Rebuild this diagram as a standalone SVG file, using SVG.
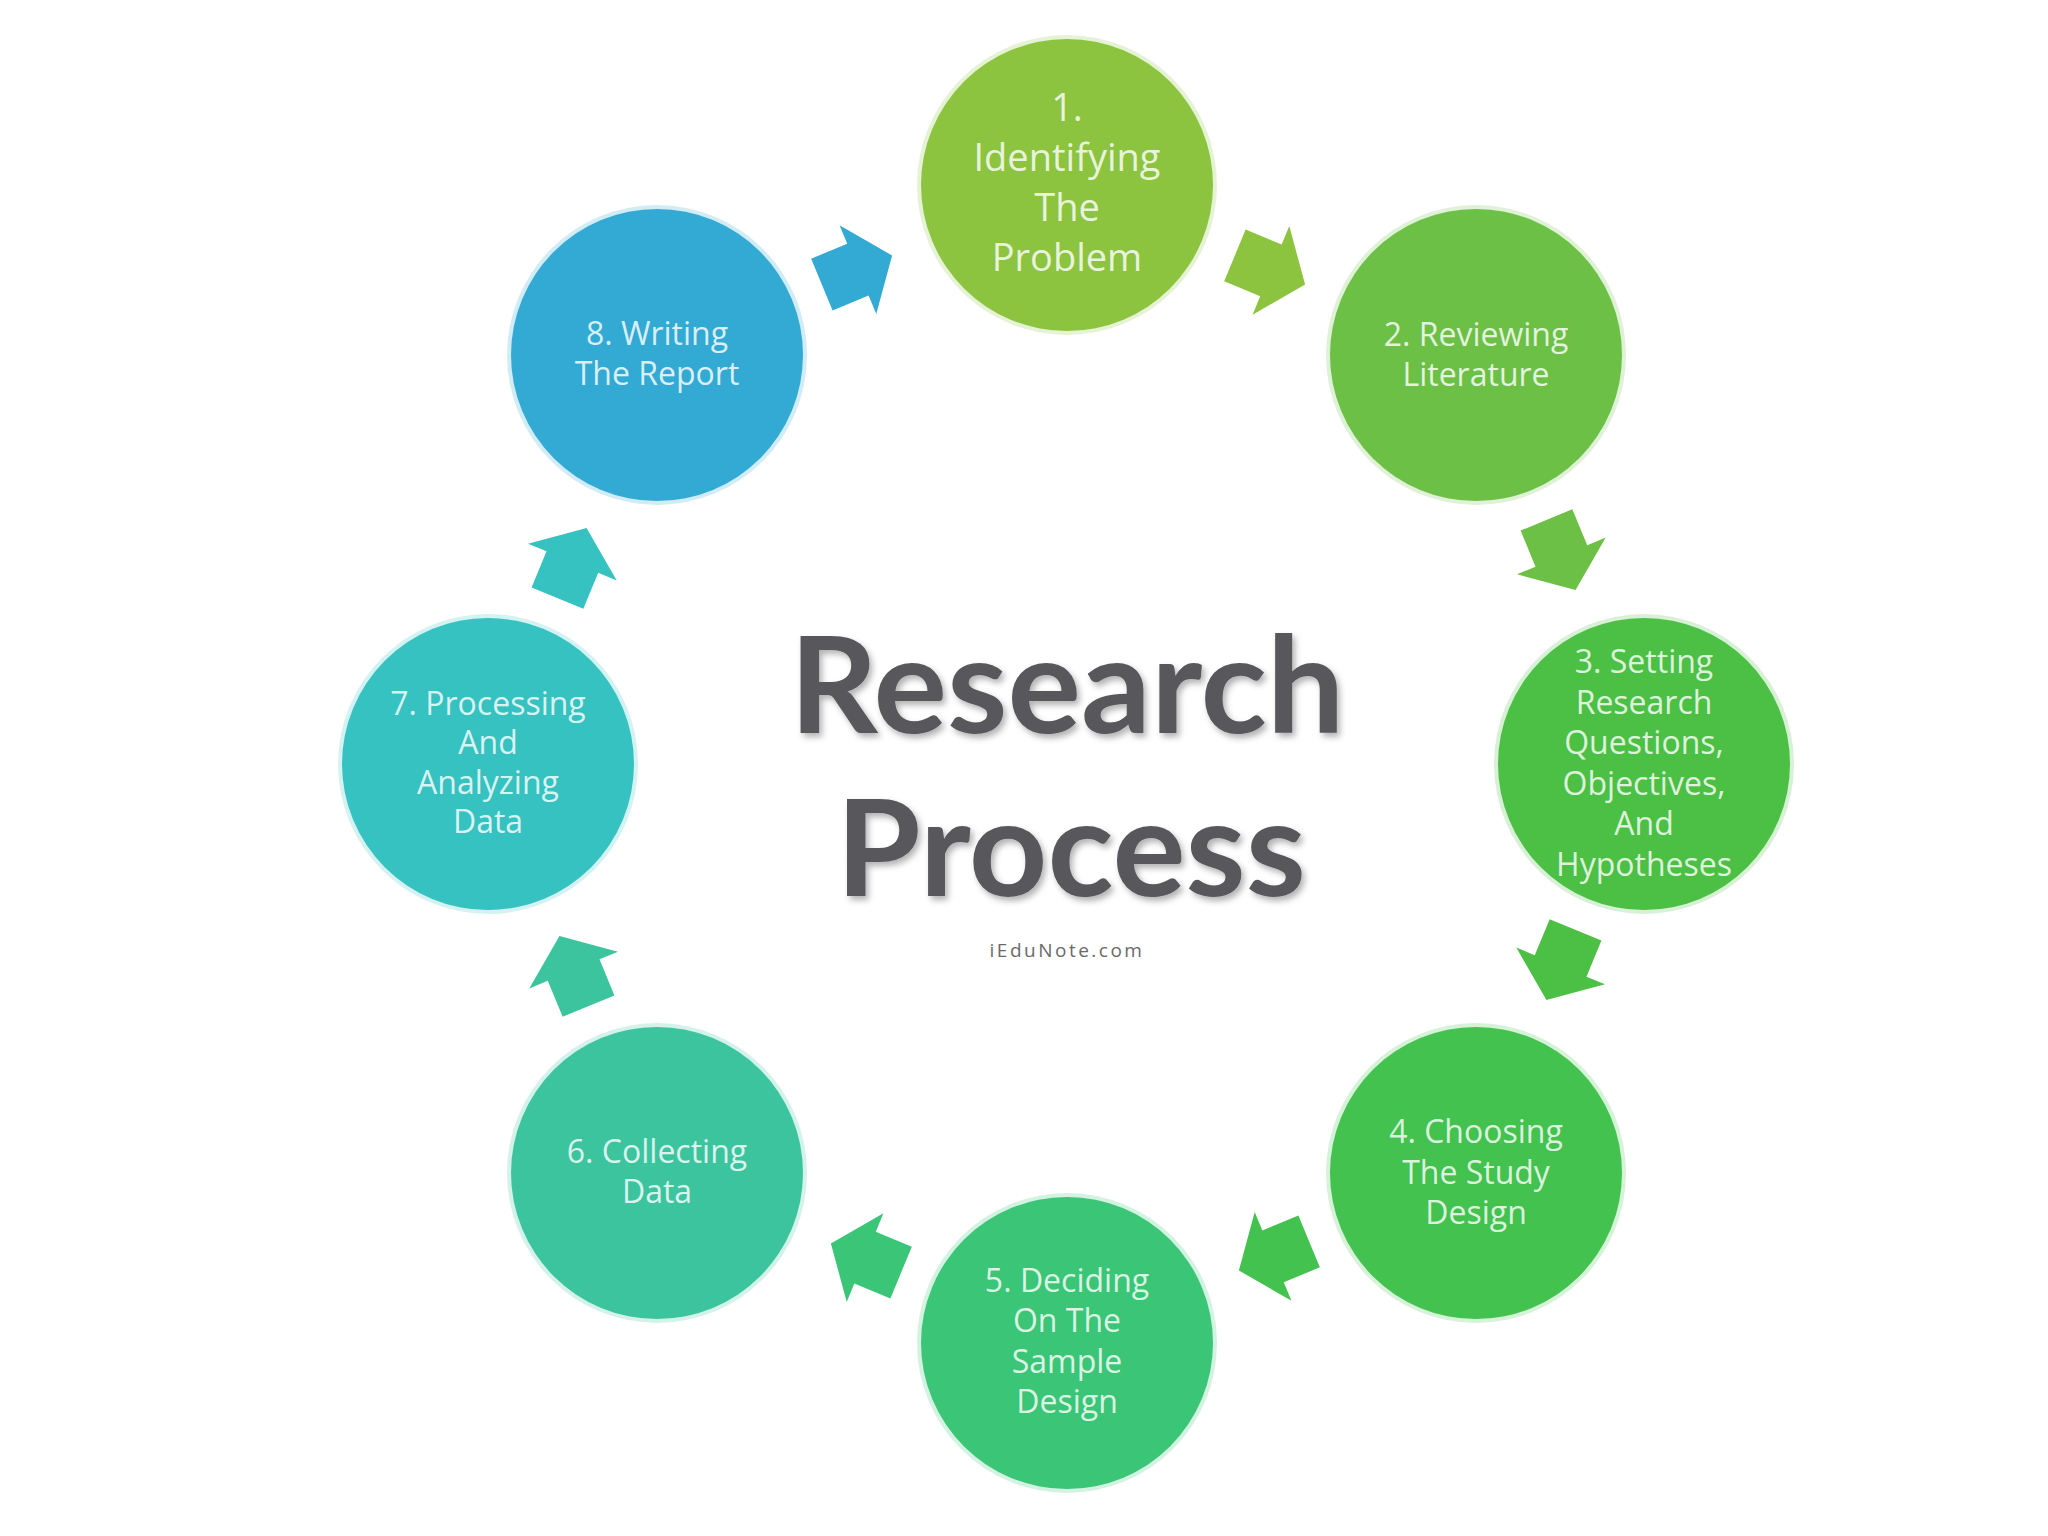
<svg xmlns="http://www.w3.org/2000/svg" xmlns:xlink="http://www.w3.org/1999/xlink" width="2048" height="1536" viewBox="0 0 2048 1536">
<style>
.lbl{font-family:"Open Sans","Noto Sans","Liberation Sans",sans-serif;font-size:32px;fill:#ffffff;fill-opacity:0.82;text-anchor:middle}
.big{font-size:38px}
.title{font-family:Lato,"Open Sans","Liberation Sans",sans-serif;font-weight:bold;font-size:134px;fill:#58585b;text-anchor:middle}
.site{font-family:"Open Sans","Liberation Sans",sans-serif;font-size:19px;letter-spacing:2.5px;fill:#6a6a6a;text-anchor:middle}
.halo{opacity:0.22}
</style>
<defs>
<path id="arr" d="M-38,-28 H1 V-48 L38,0 L1,48 V28 H-38 Z"/>
<filter id="shadow" x="-10%" y="-20%" width="120%" height="140%">
<feDropShadow dx="3" dy="4" stdDeviation="3" flood-color="#000" flood-opacity="0.3"/>
</filter>
</defs>
<rect width="2048" height="1536" fill="#ffffff"/>

<g id="connectors">
<use xlink:href="#arr" href="#arr" transform="translate(1270,270) rotate(22.5)" fill="#8cc43f"/>
<use xlink:href="#arr" href="#arr" transform="translate(1561,555) rotate(67.5)" fill="#6cc046"/>
<use xlink:href="#arr" href="#arr" transform="translate(1561,965) rotate(112.5)" fill="#4cbf45"/>
<use xlink:href="#arr" href="#arr" transform="translate(1274,1256) rotate(157.5)" fill="#43c24f"/>
<use xlink:href="#arr" href="#arr" transform="translate(866,1258) rotate(202.5)" fill="#3bc576"/>
<use xlink:href="#arr" href="#arr" transform="translate(574,971) rotate(247.5)" fill="#3cc49f"/>
<use xlink:href="#arr" href="#arr" transform="translate(572,563) rotate(292.5)" fill="#35c2c0"/>
<use xlink:href="#arr" href="#arr" transform="translate(857,270) rotate(337.5)" fill="#33aad3"/>
</g>

<g id="node1">
<circle class="halo" cx="1067" cy="185" r="150" fill="#8cc43f"/>
<circle cx="1067" cy="185" r="146" fill="#8cc43f"/>
<text class="lbl big" x="1067" y="121">1.</text>
<text class="lbl big" x="1067" y="171">Identifying</text>
<text class="lbl big" x="1067" y="221">The</text>
<text class="lbl big" x="1067" y="271">Problem</text>
</g>

<g id="node2">
<circle class="halo" cx="1476" cy="355" r="150" fill="#6cc046"/>
<circle cx="1476" cy="355" r="146" fill="#6cc046"/>
<text class="lbl" x="1476" y="346">2. Reviewing</text>
<text class="lbl" x="1476" y="386">Literature</text>
</g>

<g id="node3">
<circle class="halo" cx="1644" cy="764" r="150" fill="#4cbf45"/>
<circle cx="1644" cy="764" r="146" fill="#4cbf45"/>
<text class="lbl" x="1644" y="673">3. Setting</text>
<text class="lbl" x="1644" y="714">Research</text>
<text class="lbl" x="1644" y="754">Questions,</text>
<text class="lbl" x="1644" y="795">Objectives,</text>
<text class="lbl" x="1644" y="835">And</text>
<text class="lbl" x="1644" y="876">Hypotheses</text>
</g>

<g id="node4">
<circle class="halo" cx="1476" cy="1173" r="150" fill="#43c24f"/>
<circle cx="1476" cy="1173" r="146" fill="#43c24f"/>
<text class="lbl" x="1476" y="1143">4. Choosing</text>
<text class="lbl" x="1476" y="1184">The Study</text>
<text class="lbl" x="1476" y="1224">Design</text>
</g>

<g id="node5">
<circle class="halo" cx="1067" cy="1343" r="150" fill="#3bc576"/>
<circle cx="1067" cy="1343" r="146" fill="#3bc576"/>
<text class="lbl" x="1067" y="1292">5. Deciding</text>
<text class="lbl" x="1067" y="1332">On The</text>
<text class="lbl" x="1067" y="1373">Sample</text>
<text class="lbl" x="1067" y="1413">Design</text>
</g>

<g id="node6">
<circle class="halo" cx="657" cy="1173" r="150" fill="#3cc49f"/>
<circle cx="657" cy="1173" r="146" fill="#3cc49f"/>
<text class="lbl" x="657" y="1163">6. Collecting</text>
<text class="lbl" x="657" y="1203">Data</text>
</g>

<g id="node7">
<circle class="halo" cx="488" cy="764" r="150" fill="#35c2c0"/>
<circle cx="488" cy="764" r="146" fill="#35c2c0"/>
<text class="lbl" x="488" y="715">7. Processing</text>
<text class="lbl" x="488" y="754">And</text>
<text class="lbl" x="488" y="794">Analyzing</text>
<text class="lbl" x="488" y="833">Data</text>
</g>

<g id="node8">
<circle class="halo" cx="657" cy="355" r="150" fill="#33aad3"/>
<circle cx="657" cy="355" r="146" fill="#33aad3"/>
<text class="lbl" x="657" y="345">8. Writing</text>
<text class="lbl" x="657" y="385">The Report</text>
</g>

<g id="title">
<text class="title" x="1067" y="733" textLength="555" lengthAdjust="spacingAndGlyphs" filter="url(#shadow)">Research</text>
<text class="title" x="1071" y="896" textLength="470" lengthAdjust="spacingAndGlyphs" filter="url(#shadow)">Process</text>
<text class="site" x="1067" y="957">iEduNote.com</text>
</g>
</svg>
